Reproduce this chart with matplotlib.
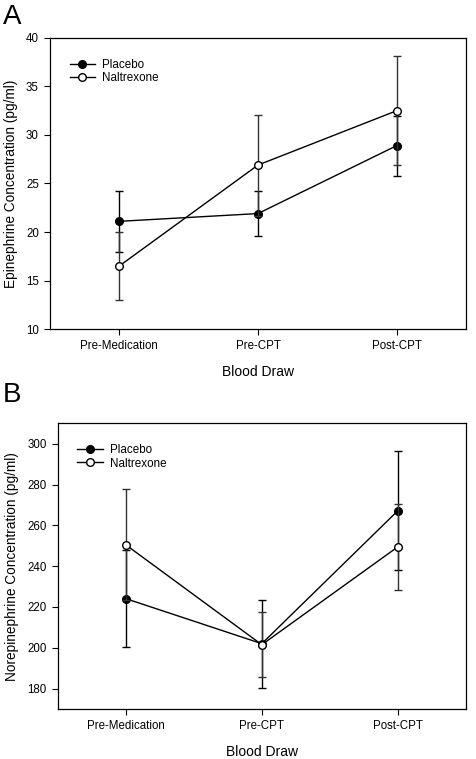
import matplotlib
matplotlib.use('Agg')
import matplotlib.pyplot as plt
from matplotlib.lines import Line2D
import numpy as np

plt.rcParams['font.family'] = ['Liberation Sans', 'DejaVu Sans']

draws = ['Pre-Medication', 'Pre-CPT', 'Post-CPT']

# panel A - epinephrine
epi_placebo = [21.1, 21.9, 28.9]
epi_placebo_err = [3.15, 2.3, 3.1]
epi_naltrexone = [16.5, 26.9, 32.5]
epi_naltrexone_err = [3.55, 5.2, 5.6]

# panel B - norepinephrine
nor_placebo = [224.1, 202.0, 267.2]
nor_placebo_err = [23.7, 21.6, 29.0]
nor_naltrexone = [250.5, 201.5, 249.5]
nor_naltrexone_err = [27.2, 15.8, 21.0]

fig = plt.figure(figsize=(4.76, 7.59), dpi=100)
axA = fig.add_axes([0.105, 0.5665, 0.874, 0.3835])
axB = fig.add_axes([0.121, 0.0659, 0.858, 0.3764])

x = np.arange(len(draws))


def draw_panel(ax, plac, plac_err, nal, nal_err, ylabel, ylim, yticks):
    ax.errorbar(x, plac, yerr=plac_err, color='black', ecolor='black', lw=1.0,
                elinewidth=1.0, capsize=2.8, capthick=1.0, marker='o', ms=5.5,
                mfc='black', mec='black', zorder=3)
    ax.errorbar(x, nal, yerr=nal_err, color='black', ecolor='#333333', lw=1.0,
                elinewidth=1.0, capsize=2.8, capthick=1.0, marker='o', ms=5.5,
                mfc='white', mec='black', zorder=4)
    ax.set_xlim(-0.5, 2.5)
    ax.set_ylim(*ylim)
    ax.set_yticks(yticks)
    ax.set_xticks(x)
    ax.set_xticklabels(draws)
    ax.tick_params(direction='out', length=4, width=0.8, labelsize=8.3,
                   top=False, right=False, pad=4)
    for s in ax.spines.values():
        s.set_linewidth(0.9)
    ax.set_xlabel('Blood Draw', fontsize=10, labelpad=9)
    ax.set_ylabel(ylabel, fontsize=9.8, labelpad=6)
    handles = [
        Line2D([], [], color='black', lw=1.0, marker='o', ms=5.5, mfc='black', mec='black'),
        Line2D([], [], color='black', lw=1.0, marker='o', ms=5.5, mfc='white', mec='black'),
    ]
    ax.legend(handles, ['Placebo', 'Naltrexone'], loc='upper left', frameon=False,
              fontsize=8.4, handlelength=2.2, handletextpad=0.6, labelspacing=0.15,
              bbox_to_anchor=(0.022, 0.965))


draw_panel(axA, epi_placebo, epi_placebo_err, epi_naltrexone, epi_naltrexone_err,
           'Epinephrine Concentration (pg/ml)', (10, 40), range(10, 41, 5))
draw_panel(axB, nor_placebo, nor_placebo_err, nor_naltrexone, nor_naltrexone_err,
           'Norepinephrine Concentration (pg/ml)', (170, 310), range(180, 301, 20))

fig.text(0.006, 0.995, 'A', fontsize=20, va='top', ha='left')
fig.text(0.006, 0.497, 'B', fontsize=20, va='top', ha='left')

fig.savefig('out.png', dpi=100)
